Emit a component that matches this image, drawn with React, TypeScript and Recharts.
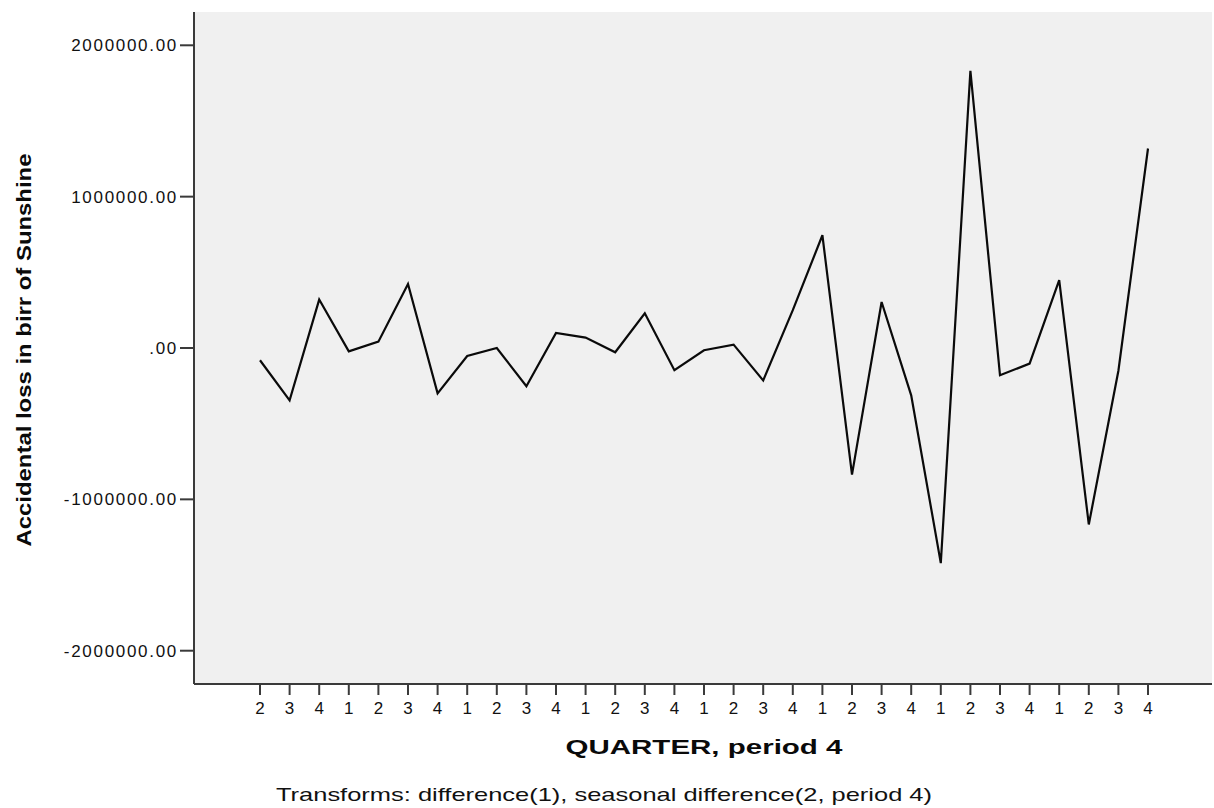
import { LineChart, Line, XAxis, YAxis, CartesianGrid } from 'recharts';

// quarter labels along the x axis
const quarters = [
  '2', '3', '4',
  '1', '2', '3', '4',
  '1', '2', '3', '4',
  '1', '2', '3', '4',
  '1', '2', '3', '4',
  '1', '2', '3', '4',
  '1', '2', '3', '4',
  '1', '2', '3', '4',
];

// differenced accidental loss (birr)
const losses = [
  -81000, -346000, 320000,
  -22000, 42000, 423000, -300000,
  -53000, 0, -253000, 99000,
  69000, -28000, 229000, -147000,
  -15000, 22000, -214000, 250000,
  745000, -837000, 304000, -313000,
  -1421000, 1831000, -180000, -103000,
  448000, -1166000, -150000, 1318000,
];

const yTicks = [-2000000, -1000000, 0, 1000000, 2000000];

const data = losses.map((v, i) => ({ idx: i, value: v }));

const fmtY = (v: number) => (v === 0 ? '.00' : v.toFixed(2));

const FONT = '"Liberation Sans", Arial, sans-serif';

export default function App() {
  return (
    <div style={{ position: 'absolute', left: 0, top: 0, width: 1214, height: 808, background: '#fff' }}>
      <LineChart
        width={1214}
        height={808}
        data={data}
        margin={{ top: 12, right: 2, left: 0, bottom: 0 }}
      >
        <CartesianGrid horizontal={false} vertical={false} fill="#f0f0f0" yAxisId="left" xAxisId="bottom" />
        <XAxis
          xAxisId="bottom"
          dataKey="idx"
          type="category"
          height={124}
          interval={0}
          padding={{ left: 66, right: 64 }}
          tickFormatter={(i: number) => quarters[i]}
          tickSize={11}
          tickMargin={7}
          axisLine={{ stroke: '#3a3a3a', strokeWidth: 2 }}
          tickLine={{ stroke: '#3a3a3a', strokeWidth: 2 }}
          tick={{ fill: '#111', fontSize: 17, fontFamily: FONT }}
        />
        <XAxis
          xAxisId="top"
          dataKey="idx"
          orientation="top"
          height={0}
          tick={false}
          tickLine={false}
          axisLine={{ stroke: '#808080', strokeWidth: 2 }}
        />
        <YAxis
          yAxisId="left"
          width={194}
          domain={[-2220000, 2220000]}
          ticks={yTicks}
          type="number"
          allowDataOverflow
          tickFormatter={fmtY}
          tickSize={14}
          tickMargin={2}
          axisLine={{ stroke: '#3a3a3a', strokeWidth: 2 }}
          tickLine={{ stroke: '#3a3a3a', strokeWidth: 2 }}
          tick={{ fill: '#111', fontSize: 17, fontFamily: FONT, letterSpacing: 1.7 }}
        />
        <YAxis
          yAxisId="right"
          orientation="right"
          width={0}
          domain={[-2220000, 2220000]}
          tick={false}
          tickLine={false}
          axisLine={{ stroke: '#808080', strokeWidth: 2 }}
        />
        <Line
          xAxisId="bottom"
          yAxisId="left"
          type="linear"
          dataKey="value"
          stroke="#0a0a0a"
          strokeWidth={2.2}
          dot={false}
          isAnimationActive={false}
        />
      </LineChart>
      <svg
        width={1214}
        height={808}
        style={{ position: 'absolute', left: 0, top: 0, pointerEvents: 'none' }}
      >
        <text
          transform="translate(31 350) rotate(-90)"
          textAnchor="middle"
          fontFamily={FONT}
          fontWeight="bold"
          fontSize={21}
          fill="#0a0a0a"
          textLength={393}
          lengthAdjust="spacingAndGlyphs"
        >
          Accidental loss in birr of Sunshine
        </text>
        <text
          x={704}
          y={754}
          textAnchor="middle"
          fontFamily={FONT}
          fontWeight="bold"
          fontSize={20}
          fill="#0a0a0a"
          textLength={277}
          lengthAdjust="spacingAndGlyphs"
        >
          QUARTER, period 4
        </text>
        <text
          x={604}
          y={801}
          textAnchor="middle"
          fontFamily={FONT}
          fontSize={19}
          fill="#111"
          textLength={656}
          lengthAdjust="spacingAndGlyphs"
        >
          Transforms: difference(1), seasonal difference(2, period 4)
        </text>
      </svg>
    </div>
  );
}
